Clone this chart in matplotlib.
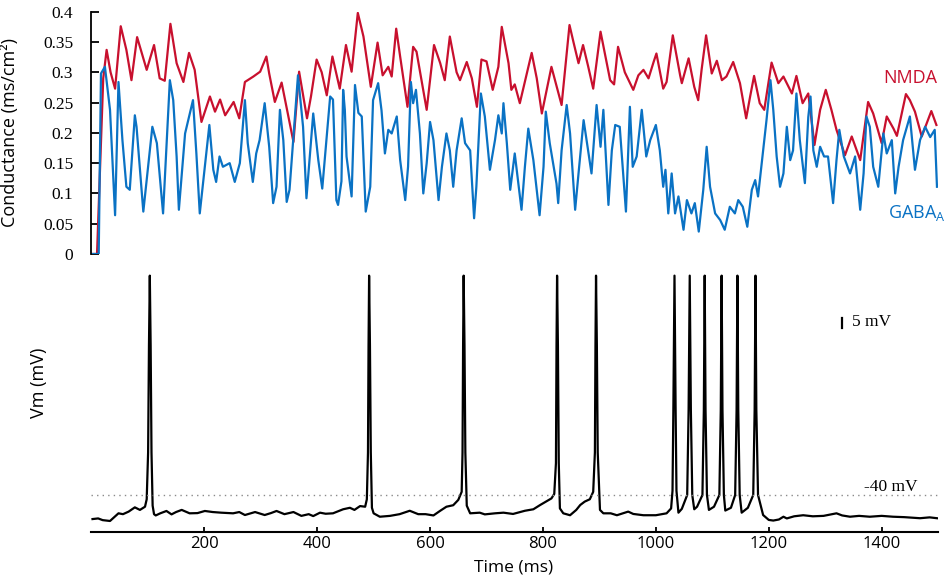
import matplotlib
matplotlib.use("Agg")
import matplotlib.pyplot as plt

plt.rcParams['font.family'] = ['Open Sans', 'DejaVu Sans']
plt.rcParams['mathtext.fontset'] = 'custom'
plt.rcParams['mathtext.rm'] = 'Open Sans'

RED = '#C8102E'
BLUE = '#0A72C4'
SERIF = 'Liberation Serif'

# conductance traces (ms, mS/cm2)
nmda_t = [0, 10, 21, 27, 34, 42, 52, 62, 71, 81, 91, 98, 111, 121, 130, 140, 151, 163, 173, 183,
          195, 210, 219, 228, 237, 252, 262, 272, 287, 299, 310, 315, 325, 337, 358, 368, 382, 389,
          399, 408, 417, 427, 440, 451, 461, 472, 482, 495, 507, 516, 526, 532, 540, 547, 560, 570,
          576, 594, 607, 618, 626, 635, 647, 653, 665, 674, 683, 691, 700, 711, 721, 727, 739, 744,
          750, 759, 780, 789, 798, 815, 833, 847, 854, 863, 871, 880, 889, 902, 913, 919, 926, 933,
          945, 960, 969, 978, 987, 996, 1001, 1013, 1019, 1030, 1043, 1046, 1058, 1068, 1075, 1081,
          1089, 1099, 1108, 1117, 1125, 1137, 1149, 1160, 1167, 1174, 1184, 1192, 1205, 1217, 1226,
          1241, 1249, 1260, 1270, 1281, 1291, 1301, 1311, 1320, 1335, 1347, 1362, 1376, 1385, 1400,
          1409, 1421, 1427, 1443, 1450, 1459, 1471, 1488, 1497]
nmda_g = [0, 0, 0.29, 0.337, 0.30, 0.273, 0.376, 0.337, 0.287, 0.358, 0.326, 0.304, 0.345, 0.29,
          0.286, 0.38, 0.315, 0.284, 0.332, 0.304, 0.218, 0.26, 0.235, 0.255, 0.229, 0.251, 0.224,
          0.284, 0.293, 0.301, 0.326, 0.298, 0.251, 0.283, 0.185, 0.301, 0.224, 0.26,
          0.321, 0.30, 0.262, 0.326, 0.273, 0.345, 0.301, 0.398, 0.359, 0.276, 0.349, 0.295, 0.309,
          0.293, 0.372, 0.326, 0.243, 0.342, 0.334, 0.238, 0.345, 0.315, 0.287, 0.359, 0.30, 0.287,
          0.317, 0.29, 0.243, 0.321, 0.318, 0.271, 0.309, 0.375, 0.315, 0.271, 0.28, 0.249, 0.332,
          0.29, 0.232, 0.309, 0.246, 0.378, 0.35, 0.315, 0.345, 0.31, 0.273, 0.367, 0.315, 0.287,
          0.28, 0.342, 0.30, 0.271, 0.295, 0.304, 0.29, 0.317, 0.331, 0.273, 0.284, 0.361, 0.295,
          0.282, 0.323, 0.276, 0.254, 0.304, 0.361, 0.298, 0.319, 0.287, 0.293, 0.317, 0.282, 0.224,
          0.26, 0.294, 0.249, 0.238, 0.316, 0.282, 0.293, 0.265, 0.294, 0.249, 0.265, 0.18, 0.238,
          0.271, 0.238, 0.205, 0.163, 0.194, 0.155, 0.251, 0.232, 0.183, 0.227, 0.207, 0.195, 0.264,
          0.254, 0.235, 0.194, 0.236, 0.213]

gaba_t = [0, 13, 17, 24, 33, 42, 48, 55, 62, 68, 77, 80, 92, 108, 116, 127, 139, 145, 151, 155,
          166, 180, 186, 192, 209, 216, 221, 227, 233, 245, 254, 263, 272, 277, 286, 292, 298, 307,
          315, 322, 328, 334, 340, 346, 351, 366, 375, 381, 393, 402, 409, 423, 428, 434, 437, 443,
          446, 449, 452, 461, 467, 473, 479, 486, 494, 499, 508, 514, 520, 526, 532, 541, 547, 556,
          561, 566, 570, 575, 582, 588, 594, 600, 606, 615, 621, 629, 635, 641, 647, 656, 662, 671,
          678, 682, 690, 697, 706, 715, 721, 727, 730, 736, 742, 750, 762, 768, 774, 783, 794, 801,
          805, 812, 824, 827, 833, 842, 848, 857, 863, 872, 878, 886, 895, 902, 907, 916, 922, 928,
          936, 947, 954, 959, 966, 975, 983, 990, 1000, 1007, 1013, 1017, 1022, 1028, 1034, 1040,
          1049, 1055, 1063, 1069, 1076, 1084, 1090, 1096, 1105, 1114, 1122, 1131, 1140, 1146, 1154,
          1162, 1170, 1176, 1181, 1196, 1203, 1208, 1214, 1220, 1226, 1232, 1238, 1243, 1249, 1255,
          1264, 1270, 1274, 1279, 1285, 1291, 1298, 1305, 1314, 1320, 1325, 1333, 1344, 1353, 1362,
          1368, 1373, 1379, 1385, 1394, 1403, 1409, 1418, 1424, 1430, 1438, 1450, 1459, 1468, 1477,
          1486, 1494, 1498]
gaba_g = [0, 0, 0.298, 0.309, 0.238, 0.064, 0.284, 0.188, 0.111, 0.106, 0.229, 0.21, 0.07, 0.21,
          0.183, 0.067, 0.287, 0.254, 0.161, 0.073, 0.199, 0.254, 0.166, 0.067, 0.213, 0.139, 0.119,
          0.161, 0.144, 0.15, 0.119, 0.15, 0.254, 0.183, 0.119, 0.166, 0.188, 0.249, 0.177, 0.084,
          0.111, 0.238, 0.188, 0.086, 0.106, 0.295, 0.21, 0.092, 0.232, 0.155, 0.108, 0.26, 0.255,
          0.089, 0.081, 0.12, 0.271, 0.238, 0.161, 0.095, 0.279, 0.233, 0.227, 0.07, 0.111, 0.254,
          0.282, 0.237, 0.166, 0.205, 0.199, 0.227, 0.155, 0.089, 0.144, 0.284, 0.249, 0.271, 0.199,
          0.1, 0.15, 0.218, 0.188, 0.089, 0.144, 0.199, 0.171, 0.111, 0.171, 0.224, 0.183, 0.171,
          0.059, 0.111, 0.265, 0.227, 0.139, 0.188, 0.229, 0.199, 0.249, 0.183, 0.106, 0.166, 0.073,
          0.144, 0.207, 0.155, 0.064, 0.144, 0.235, 0.183, 0.116, 0.084, 0.171, 0.246, 0.199, 0.073,
          0.133, 0.221, 0.183, 0.133, 0.246, 0.177, 0.238, 0.081, 0.171, 0.213, 0.21, 0.07, 0.243,
          0.144, 0.161, 0.238, 0.161, 0.188, 0.213, 0.171, 0.111, 0.139, 0.067, 0.133, 0.067, 0.095,
          0.04, 0.089, 0.067, 0.084, 0.037, 0.106, 0.177, 0.111, 0.067, 0.056, 0.04, 0.078, 0.067,
          0.089, 0.078, 0.045, 0.106, 0.122, 0.095, 0.221, 0.287, 0.238, 0.161, 0.111, 0.133, 0.21,
          0.155, 0.171, 0.265, 0.188, 0.117, 0.226, 0.26, 0.171, 0.144, 0.177, 0.161, 0.161, 0.084,
          0.155, 0.205, 0.161, 0.133, 0.161, 0.073, 0.133, 0.227, 0.21, 0.144, 0.111, 0.199, 0.166,
          0.188, 0.1, 0.144, 0.188, 0.227, 0.139, 0.188, 0.21, 0.193, 0.205, 0.111]

# membrane potential (ms, mV)
vm_t = [2, 12, 20, 33, 40, 48, 56, 66, 77, 86, 95, 98, 100.5, 102, 103.5, 105, 106.5, 108.5, 111,
        114, 122, 133, 142, 150, 160, 174, 188, 201, 215, 230, 251, 262, 272, 290, 307, 318, 328,
        342, 358, 372, 385, 393, 405, 415, 428, 446, 458, 466, 476, 485, 488, 490, 491, 492, 493.5,
        495, 497, 500, 511, 529, 546, 564, 579, 592, 606, 618, 629, 641, 650, 656, 657.5, 658.5,
        659.5, 661, 662.5, 665, 671, 688, 697, 715, 730, 747, 768, 783, 795, 808, 815, 820, 823,
        824, 825, 826.5, 828, 830, 836, 848, 859, 866, 874, 883, 889, 892, 893, 894, 895.5, 897,
        901, 907, 920, 931, 951, 960, 978, 1000, 1019, 1027,
        1029.5, 1031, 1033, 1035, 1036.5, 1040, 1046,
        1055.5, 1058, 1060, 1062, 1064.5, 1068, 1073,
        1082.5, 1085, 1086.5, 1088, 1090.5, 1094, 1103,
        1112.5, 1115, 1116.5, 1118, 1120.5, 1123, 1133,
        1140.5, 1143, 1144.5, 1146, 1148.5, 1152, 1163,
        1172.5, 1175, 1176.5, 1178, 1181, 1190, 1200, 1208, 1218, 1226, 1232, 1245, 1261, 1278,
        1297, 1320, 1330, 1344, 1360, 1379, 1400, 1420, 1440, 1468, 1485, 1498]
vm_v = [-51.3, -51, -51.8, -52.2, -50.5, -48.6, -49, -47.8, -45.8, -47, -45.5, -42, -20, 30, 63,
        30, -20, -45, -49, -49.6, -48.6, -47.5, -49.1, -48, -47, -48.6, -48.5, -47.5, -48, -48.3,
        -48.6, -48, -49.4, -48, -49.4, -48.5, -47.5, -49, -48, -49.8, -49, -49.9, -48.3, -48.8,
        -48.6, -46.7, -46, -47, -45.2, -45.5, -42, -20, 30, 63, 30, -20, -46, -48.6, -50.2, -49.8,
        -49, -47.4, -49, -49, -49.6, -47.4, -45.5, -44.8, -42.3, -38.5, -20, 30, 63, 30, -20, -45,
        -48.6, -48.3, -49.1, -48.6, -48.3, -48.9, -47.4, -46.7, -44.7, -42.7, -41.6, -39.5, -25,
        30, 63, 30, -25, -46.3, -48.6, -49.5, -47, -44.7, -43.1, -42, -38.5, -20, 30, 63, 30, -20,
        -47, -48.6, -48.6, -49.5, -47.8, -48.9, -49.5, -49.5, -48.6, -46.3,
        -38, 0, 63, 0, -38, -48.3, -46.5,
        -40, 0, 63, 0, -40, -46.7, -45.5,
        -40, 0, 63, 0, -40, -47, -45.5,
        -40, 0, 63, 0, -40, -47.3, -46,
        -40, 0, 63, 0, -40, -48.3, -46,
        -40, 0, 63, 0, -40, -49.4, -51.7, -52, -51.5, -50.2, -51, -50, -49.5, -50, -49.8, -48.6,
        -49.6, -50.2, -49.8, -50.2, -49.8, -50.2, -50.4, -50.9, -50.5, -50.9]

g_ticks = [0, 0.05, 0.1, 0.15, 0.2, 0.25, 0.3, 0.35, 0.4]
g_labels = ['0', '0.05', '0.1', '0.15', '0.2', '0.25', '0.3', '0.35', '0.4']
t_ticks = [200, 400, 600, 800, 1000, 1200, 1400]
threshold = -40
scale_bar = 5

fig = plt.figure(figsize=(9.45, 5.77), dpi=100)
ax1 = fig.add_axes([0.0967, 0.5598, 0.896, 0.4199])
ax2 = fig.add_axes([0.0967, 0.078, 0.896, 0.454])

# top: conductances
ax1.plot(nmda_t, nmda_g, color=RED, lw=1.6, solid_joinstyle='round')
ax1.plot(gaba_t, gaba_g, color=BLUE, lw=1.6, solid_joinstyle='round')
ax1.set_xlim(0, 1500)
ax1.set_ylim(0, 0.4)
for s in ['top', 'right', 'bottom']:
    ax1.spines[s].set_visible(False)
ax1.spines['left'].set_linewidth(1.3)
ax1.set_xticks([])
ax1.set_yticks(g_ticks)
ax1.set_yticklabels(g_labels, fontfamily=SERIF, fontsize=12.5)
ax1.tick_params(axis='y', direction='in', length=6, width=1.3, pad=13)
ax1.text(1402, 0.29, 'NMDA', color=RED, fontsize=13, va='center', ha='left')
ax1.text(1411, 0.068, r'GABA$_{\mathrm{A}}$', color=BLUE, fontsize=13, va='center', ha='left')
fig.text(0.011, 0.77, 'Conductance (ms/cm\u00b2)', rotation=90, fontsize=13,
         ha='center', va='center')

# bottom: membrane potential
ax2.plot(vm_t, vm_v, color='black', lw=1.6, solid_joinstyle='round')
ax2.axhline(threshold, color='#8a8a8a', lw=1, linestyle=(0, (1, 3)))
ax2.plot([1330, 1330], [38.3, 38.3 + scale_bar], color='black', lw=1.6)
ax2.text(1348, 41.2, '5 mV', fontfamily=SERIF, fontsize=12.5, va='center', ha='left')
ax2.text(1368, -36.2, '-40 mV', fontfamily=SERIF, fontsize=12.5, va='center', ha='left')
ax2.set_xlim(0, 1500)
ax2.set_ylim(-57.37, 65.63)
for s in ['top', 'right', 'left']:
    ax2.spines[s].set_visible(False)
ax2.spines['bottom'].set_linewidth(1.5)
ax2.set_yticks([])
ax2.set_xticks(t_ticks)
ax2.tick_params(axis='x', direction='in', length=3.5, width=1.3, pad=3, labelsize=12)
fig.text(0.543, 0.017, 'Time (ms)', fontsize=12.5, ha='center', va='center')
fig.text(0.041, 0.336, 'Vm (mV)', rotation=90, fontsize=13, ha='center', va='center')

fig.savefig('out.png', dpi=100)
